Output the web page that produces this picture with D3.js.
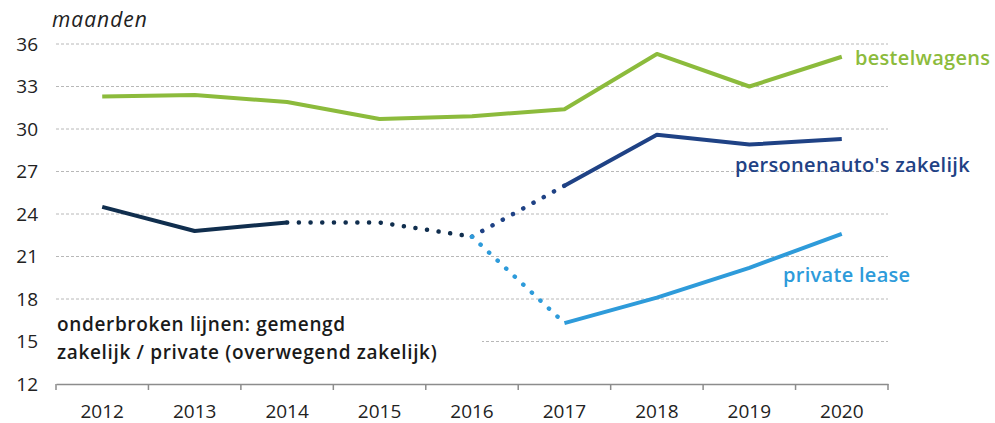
<!DOCTYPE html>
<html>
<head>
<meta charset="utf-8">
<script src="https://cdn.jsdelivr.net/npm/d3@7"></script>
<style>
  body { margin: 0; background: #fff; }
  svg { display: block; }
</style>
</head>
<body>
<div id="chart"></div>
<script>
// data (months)
var years = ["2012", "2013", "2014", "2015", "2016", "2017", "2018", "2019", "2020"];
var yTicks = [12, 15, 18, 21, 24, 27, 30, 33, 36];

var bestelwagens = [32.3, 32.4, 31.9, 30.7, 30.9, 31.4, 35.3, 33.0, 35.1];
// personenauto's zakelijk: solid 2012-2014, dotted 2014-2017, solid 2017-2020
var zakelijkOud = [24.5, 22.8, 23.4];             // 2012-2014
var gemengd = [23.4, 23.4, 22.4];                 // 2014-2016 (mixed)
var zakelijkOvergang = [22.4, 26.0];              // 2016-2017
var zakelijkNieuw = [26.0, 29.6, 28.9, 29.3];     // 2017-2020
var privateOvergang = [22.4, 16.3];               // 2016-2017
var privateLease = [16.3, 18.1, 20.2, 22.6];      // 2017-2020

var width = 995, height = 423;
var font = "'Open Sans', sans-serif";
var svg = d3.select("#chart").append("svg")
    .attr("width", width)
    .attr("height", height);

var x = d3.scaleBand().domain(years).range([56, 888]);
var y = d3.scaleLinear().domain([12, 36]).range([384, 44]);
var cx = function(yr) { return x(yr) + x.bandwidth() / 2; };

// gridlines
svg.append("g")
  .selectAll("line")
  .data(yTicks.filter(function(t) { return t > 12; }))
  .enter().append("line")
    .attr("x1", 56).attr("x2", 888)
    .attr("y1", function(d) { return y(d); })
    .attr("y2", function(d) { return y(d); })
    .attr("stroke", "#b8b8b8")
    .attr("stroke-width", 1)
    .attr("stroke-dasharray", "3 2");

// y labels
svg.append("g")
  .selectAll("text")
  .data(yTicks)
  .enter().append("text")
    .attr("x", 38)
    .attr("y", function(d) { return y(d); })
    .attr("dy", "0.36em")
    .attr("text-anchor", "end")
    .style("font-family", font)
    .style("font-size", "19px")
    .attr("fill", "#222")
    .text(function(d) { return d; });

svg.append("text")
    .attr("x", 52).attr("y", 27)
    .style("font-family", font)
    .style("font-size", "21px")
    .style("font-style", "italic")
    .style("letter-spacing", "1px")
    .attr("fill", "#222")
    .text("maanden");

// x axis
var xAxis = d3.axisBottom(x).tickSize(0).tickPadding(21);
var gx = svg.append("g").attr("transform", "translate(0,384)").call(xAxis);
gx.select(".domain").attr("stroke", "#8c8c8c").attr("stroke-width", 1.5);
gx.selectAll("text")
    .style("font-family", font)
    .style("font-size", "19px")
    .attr("fill", "#222");
// tick marks between categories
gx.append("g").selectAll("line")
  .data(years.concat(["end"]))
  .enter().append("line")
    .attr("x1", function(d, i) { return x.range()[0] + i * x.step(); })
    .attr("x2", function(d, i) { return x.range()[0] + i * x.step(); })
    .attr("y1", 0).attr("y2", 6)
    .attr("stroke", "#8c8c8c").attr("stroke-width", 1.5);

// annotation with white box covering the 15 gridline
var note = svg.append("g");
note.append("rect")
    .attr("x", 52).attr("y", 310).attr("width", 430).attr("height", 58)
    .attr("fill", "#fff");
note.selectAll("text")
  .data(["onderbroken lijnen: gemengd", "zakelijk / private (overwegend zakelijk)"])
  .enter().append("text")
    .attr("x", 57)
    .attr("y", function(d, i) { return 331 + i * 28; })
    .style("font-family", font)
    .style("font-size", "19px")
    .style("font-weight", 600)
    .style("letter-spacing", "0.65px")
    .attr("fill", "#1a1a1a")
    .text(function(d) { return d; });

var line = d3.line()
    .x(function(d) { return cx(d[0]); })
    .y(function(d) { return y(d[1]); });

function series(vals, startIdx) {
  return vals.map(function(v, i) { return [years[startIdx + i], v]; });
}

function draw(data, color, dotted) {
  svg.append("path")
    .datum(data)
    .attr("d", line)
    .attr("fill", "none")
    .attr("stroke", color)
    .attr("stroke-width", dotted ? 4.5 : 4)
    .attr("stroke-linecap", dotted ? "round" : "butt")
    .attr("stroke-linejoin", "round")
    .attr("stroke-dasharray", dotted ? "0.1 11.6" : null);
}

var cGreen = "#8cbb3c", cNavy = "#102e4e", cBlue = "#1f4285", cLight = "#2e9bda";

draw(series(bestelwagens, 0), cGreen, false);
draw(series(zakelijkOud, 0), cNavy, false);
draw(series(gemengd, 2), cNavy, true);
draw(series(zakelijkOvergang, 4), cBlue, true);
draw(series(zakelijkNieuw, 5), cBlue, false);
draw(series(privateOvergang, 4), cLight, true);
draw(series(privateLease, 5), cLight, false);

// series labels
svg.append("clipPath").attr("id", "labclip")
  .append("rect").attr("x", 700).attr("y", 140).attr("width", 270).attr("height", 40);

var labels = [
  { text: "bestelwagens", x: 855, y: 65, color: cGreen, clip: null },
  { text: "personenauto's zakelijk", x: 735, y: 172, color: cBlue, clip: "url(#labclip)" },
  { text: "private lease", x: 783, y: 282, color: cLight, clip: null }
];
svg.append("g").selectAll("text")
  .data(labels)
  .enter().append("text")
    .attr("x", function(d) { return d.x; })
    .attr("y", function(d) { return d.y; })
    .attr("clip-path", function(d) { return d.clip; })
    .style("font-family", font)
    .style("font-size", "20px")
    .style("font-weight", 600)
    .style("letter-spacing", "0.3px")
    .attr("fill", function(d) { return d.color; })
    .text(function(d) { return d.text; });
</script>
</body>
</html>
